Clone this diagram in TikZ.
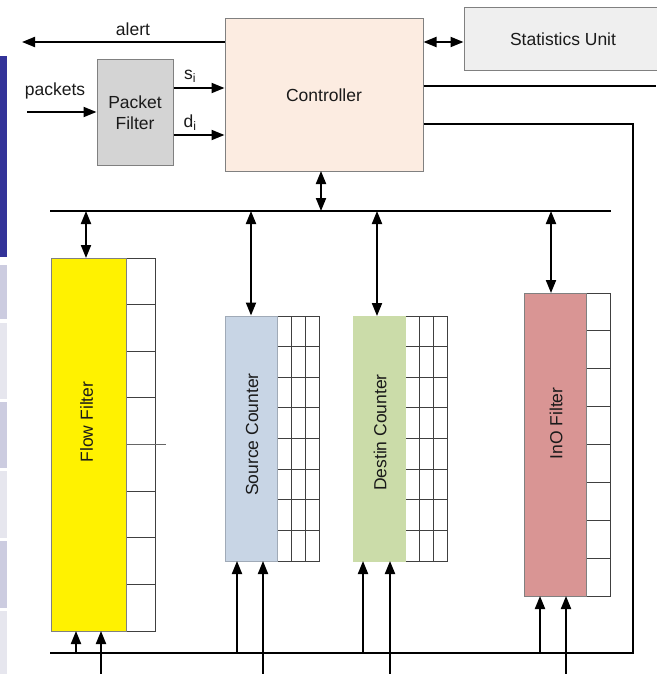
\documentclass[tikz,border=0pt]{standalone}
\usepackage{fontspec}
\setmainfont{Liberation Sans}
\usetikzlibrary{arrows.meta}
\definecolor{txt}{HTML}{1A1A1A}
\definecolor{bord}{HTML}{808080}
\definecolor{pfill}{HTML}{D4D4D4}
\definecolor{cfill}{HTML}{FCECE1}
\definecolor{sfill}{HTML}{EFEFEF}
\definecolor{srcfill}{HTML}{C8D5E5}
\definecolor{dstfill}{HTML}{CBDCA9}
\definecolor{inofill}{HTML}{D99594}
\definecolor{stripdark}{HTML}{333399}
\definecolor{striplav}{HTML}{CCCCE0}
\definecolor{striplight}{HTML}{E6E6EE}
\tikzset{
  box/.style={draw=bord, line width=1pt, inner sep=0pt, text=txt,
    font=\fontsize{17.5}{21}\selectfont, align=center},
  lbl/.style={text=txt, inner sep=0pt, font=\fontsize{17.5}{21}\selectfont},
  conn/.style={line width=2pt, draw=black},
  arr/.style={conn, -{Triangle[length=13pt,width=10pt]}},
  dbl/.style={conn, {Triangle[length=13pt,width=10pt]}-{Triangle[length=13pt,width=10pt]}},
  grid/.style={draw=black!75, line width=0.9pt},
}
\begin{document}
\begin{tikzpicture}[x=1pt,y=-1pt]
\useasboundingbox (0,0) rectangle (656,674);
% left strip
\fill[stripdark] (0,56) rectangle (7,257);
\fill[striplav] (0,265) rectangle (7,319);
\fill[striplight] (0,323) rectangle (7,399);
\fill[striplav] (0,402) rectangle (7,468);
\fill[striplight] (0,471) rectangle (7,538);
\fill[striplav] (0,541) rectangle (7,608);
\fill[striplight] (0,611) rectangle (7,674);

% main boxes
\node[box, fill=cfill, minimum width=198pt, minimum height=152pt] (ctrl) at (324,95) {Controller};
\node[box, fill=pfill, minimum width=76pt, minimum height=105pt] (pf) at (135,112.5) {Packet\\Filter};
\node[box, fill=sfill, minimum width=198pt, minimum height=63pt] (stat) at (563,39.5) {Statistics Unit};

% tables
\draw[grid] (126,258) rectangle (155,631);
\foreach \y in {304.6,351.2,397.9,491.1,537.7,584.4} \draw[grid] (126,\y) -- (155,\y);
\draw[grid, draw=black!60] (126,444.5) -- (166,444.5);
\draw[grid] (277,316) rectangle (319,561);
\foreach \x in {291,305} \draw[grid] (\x,316) -- (\x,561);
\foreach \i in {1,...,7} \draw[grid] (277,316+\i*30.625) -- (319,316+\i*30.625);
\draw[grid] (405,316) rectangle (447,561);
\foreach \x in {419,433} \draw[grid] (\x,316) -- (\x,561);
\foreach \i in {1,...,7} \draw[grid] (405,316+\i*30.625) -- (447,316+\i*30.625);
\draw[grid] (586,293) rectangle (610,596);
\foreach \i in {1,...,7} \draw[grid] (586,293+\i*37.875) -- (610,293+\i*37.875);

% filter / counter boxes
\node[box, fill=yellow, minimum width=75pt, minimum height=373pt] (flow) at (88.5,444.5) {};
\node[box, fill=srcfill, draw=srcfill!80!black, minimum width=52pt, minimum height=245pt] (src) at (251,438.5) {};
\node[box, fill=dstfill, draw=dstfill, minimum width=52pt, minimum height=245pt] (dst) at (379,438.5) {};
\node[box, fill=inofill, minimum width=62pt, minimum height=303pt] (ino) at (555,444.5) {};
\node[lbl, rotate=90] (flowl) at (86.5,422) {Flow Filter};
\node[lbl, rotate=90] (srcl) at (252,434.5) {Source Counter};
\node[lbl, rotate=90] (dstl) at (380,432.5) {Destin Counter};
\node[lbl, rotate=90] (inol) at (556,423.5) {InO Filter};

% labels
\node[lbl] (alertl) at (133,29) {alert};
\node[lbl] (pktl) at (55,91) {packets};
\node[lbl] (sil) at (190,76) {s\textsubscript{i}};
\node[lbl] (dil) at (190,123) {d\textsubscript{i}};

% coordinates
\coordinate (alertend) at (22,42);
\coordinate (pktstart) at (27,112);
\coordinate (busL) at (50,211);
\coordinate (busR) at (611,211);
\coordinate (bbL) at (50,653);
\coordinate (rc) at (633,653);
\coordinate (edge86) at (656,86);

% top connectors
\draw[arr] (ctrl.west |- 0,42) -- (alertend);
\draw[arr] (pktstart) -- (pf.west |- pktstart);
\draw[arr] (pf.east |- 0,88) -- (ctrl.west |- 0,88);
\draw[arr] (pf.east |- 0,135) -- (ctrl.west |- 0,135);
\draw[dbl] (ctrl.east |- 0,42) -- (stat.west |- 0,42);
\draw[conn] (ctrl.east |- edge86) -- (edge86);
\draw[conn] (ctrl.east |- 0,124) -| (rc) -- (bbL);

% top bus
\draw[conn] (busL) -- (busR);
\draw[dbl] (321,171) -- (321,211);
\draw[dbl] (86,211) -- (86,258);
\draw[dbl] (src.north |- busL) -- (src.north);
\draw[dbl] (377,211) -- (377,316);
\draw[dbl] (551,211) -- (551,293);

% bottom arrows
\draw[arr] (76,653) -- (76,631);
\draw[arr] (101,674) -- (101,631);
\draw[arr] (237,653) -- (237,561);
\draw[arr] (263,674) -- (263,561);
\draw[arr] (363,653) -- (363,561);
\draw[arr] (390,674) -- (390,561);
\draw[arr] (540,653) -- (540,596);
\draw[arr] (566,674) -- (566,596);
\end{tikzpicture}
\end{document}
